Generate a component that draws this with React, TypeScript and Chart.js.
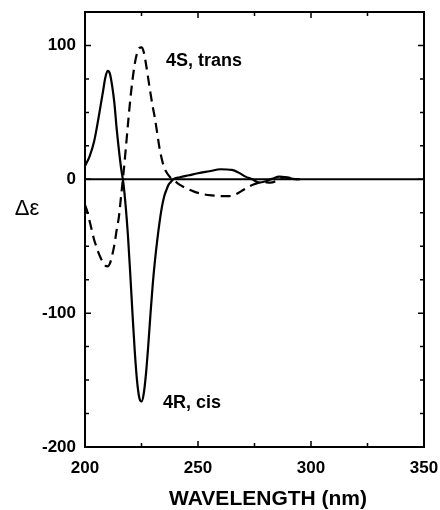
import React, { useEffect, useRef } from "react";
import { Chart, registerables } from "chart.js";

Chart.register(...registerables);

// 4R, cis (solid)
const cisWavelengths = [200, 202, 204, 206, 207, 208, 209, 210, 211, 212, 213, 214, 215, 216, 217, 218, 219, 220, 221, 222, 223, 224, 225, 226, 227, 228, 229, 230, 231, 232, 233, 234, 235, 236, 237, 238, 239, 242, 246, 250, 255, 260, 265, 268, 271, 274, 277, 280, 283, 286, 289, 292, 295];
const cisValues = [10, 17, 28, 46, 56, 66, 76, 81, 79, 70, 57, 38, 22, 8, -3, -20, -42, -70, -100, -128, -150, -163, -166, -160, -145, -124, -100, -78, -60, -45, -32, -21, -13, -8, -4, -2, 0, 1.5, 3, 4.5, 6, 7.5, 7, 5, 2, 0, -2.5, -1.5, 0.5, 2, 1.5, 0.3, 0];

// 4S, trans (dashed)
const transWavelengths = [200, 201, 202, 203, 204, 205, 206, 207, 208, 209, 210, 211, 212, 213, 214, 215, 216, 217, 218, 219, 220, 221, 222, 223, 224, 225, 226, 227, 228, 229, 230, 231, 232, 233, 234, 235, 236, 237, 238, 239, 241, 244, 248, 252, 256, 260, 264, 267, 270, 273, 276, 279, 282, 285, 288, 291, 294];
const transValues = [-19, -24, -31, -38, -45, -50, -55, -59, -62, -64.5, -65, -63, -57, -49, -38, -28, -12, 4, 22, 41, 59, 74, 86, 94, 98, 98.5, 95, 86, 75, 64, 54, 45, 34, 23, 15, 9, 5.5, 3, 1, 0, -3, -6, -9, -11, -12, -12.5, -12.5, -11, -8, -5, -3, -2, -2.5, -1, 1.5, 1, 0];

const xMajorTicks = [200, 250, 300, 350];
const yMajorTicks = [-200, -100, 0, 100];

const labelTrans = "4S, trans";
const labelCis = "4R, cis";
const yTitle = "Δε";
const xTitle = "WAVELENGTH (nm)";

const FONT = "'Liberation Sans', Arial, Helvetica, sans-serif";

const framePlugin = {
  id: "frameTicks",
  beforeDatasetsDraw(chart: any) {
    const { ctx, chartArea, scales } = chart;
    const y0 = scales.y.getPixelForValue(0);
    ctx.save();
    ctx.strokeStyle = "#000";
    ctx.lineWidth = 2;
    ctx.beginPath();
    ctx.moveTo(chartArea.left, y0);
    ctx.lineTo(chartArea.right, y0);
    ctx.stroke();
    ctx.restore();
  },
  afterDatasetsDraw(chart: any) {
    const { ctx, chartArea, scales } = chart;
    const { left, right, top, bottom } = chartArea;
    ctx.save();
    ctx.strokeStyle = "#000";
    ctx.lineWidth = 2;
    ctx.strokeRect(left, top, right - left, bottom - top);
    ctx.lineWidth = 1.5;
    scales.x.ticks.forEach((t: any) => {
      const px = scales.x.getPixelForValue(t.value);
      const len = xMajorTicks.includes(t.value) ? 6 : 4;
      ctx.beginPath();
      ctx.moveTo(px, bottom);
      ctx.lineTo(px, bottom - len);
      ctx.moveTo(px, top);
      ctx.lineTo(px, top + len);
      ctx.stroke();
    });
    scales.y.ticks.forEach((t: any) => {
      const py = scales.y.getPixelForValue(t.value);
      const len = yMajorTicks.includes(t.value) ? 6 : 4;
      ctx.beginPath();
      ctx.moveTo(left, py);
      ctx.lineTo(left + len, py);
      ctx.moveTo(right, py);
      ctx.lineTo(right - len, py);
      ctx.stroke();
    });
    ctx.fillStyle = "#000";
    ctx.textBaseline = "middle";
    ctx.textAlign = "left";
    ctx.font = `bold 18px ${FONT}`;
    ctx.fillText(labelTrans, scales.x.getPixelForValue(235.8), scales.y.getPixelForValue(88));
    ctx.fillText(labelCis, scales.x.getPixelForValue(234.5), scales.y.getPixelForValue(-167));
    ctx.textAlign = "center";
    ctx.font = `22px ${FONT}`;
    ctx.fillText(yTitle, 27, scales.y.getPixelForValue(-22));
    ctx.font = `bold 21px ${FONT}`;
    ctx.fillText(xTitle, scales.x.getPixelForValue(281), 499);
    ctx.restore();
  },
};

export default function App() {
  const ref = useRef<HTMLCanvasElement | null>(null);
  useEffect(() => {
    if (!ref.current) return;
    const chart = new Chart(ref.current, {
      type: "line",
      data: {
        datasets: [
          {
            label: labelCis,
            data: cisWavelengths.map((x, i) => ({ x, y: cisValues[i] })),
            borderColor: "#000",
            borderWidth: 2.2,
            pointRadius: 0,
            cubicInterpolationMode: "monotone",
            fill: false,
          },
          {
            label: labelTrans,
            data: transWavelengths.map((x, i) => ({ x, y: transValues[i] })),
            borderColor: "#000",
            borderWidth: 2.2,
            borderDash: [10, 6],
            pointRadius: 0,
            cubicInterpolationMode: "monotone",
            fill: false,
          },
        ],
      },
      options: {
        animation: false,
        responsive: false,
        maintainAspectRatio: false,
        layout: { padding: { top: 12, right: 16, left: 0, bottom: 0 } },
        plugins: { legend: { display: false }, tooltip: { enabled: false } },
        scales: {
          x: {
            type: "linear",
            min: 200,
            max: 350,
            grid: { display: false },
            border: { display: false },
            ticks: {
              stepSize: 25,
              autoSkip: false,
              maxRotation: 0,
              padding: 3,
              color: "#000",
              font: { family: FONT, size: 17, weight: "bold" },
              callback: (v: any) => (xMajorTicks.includes(Number(v)) ? String(v) : ""),
            },
            afterFit: (s: any) => {
              s.height = 63;
              s.paddingLeft = 0;
              s.paddingRight = 0;
            },
          },
          y: {
            type: "linear",
            min: -200,
            max: 125,
            grid: { display: false },
            border: { display: false },
            ticks: {
              stepSize: 25,
              autoSkip: false,
              padding: 1,
              color: "#000",
              font: { family: FONT, size: 17, weight: "bold" },
              callback: (v: any) => (yMajorTicks.includes(Number(v)) ? String(v) : ""),
            },
            afterFit: (s: any) => {
              s.width = 85;
              s.paddingTop = 0;
              s.paddingBottom = 0;
            },
          },
        },
      },
      plugins: [framePlugin],
    } as any);
    return () => chart.destroy();
  }, []);
  return (
    <div style={{ position: "fixed", left: 0, top: 0, width: 440, height: 510, background: "#fff" }}>
      <canvas ref={ref} width={440} height={510} style={{ display: "block", width: 440, height: 510 }} />
    </div>
  );
}
